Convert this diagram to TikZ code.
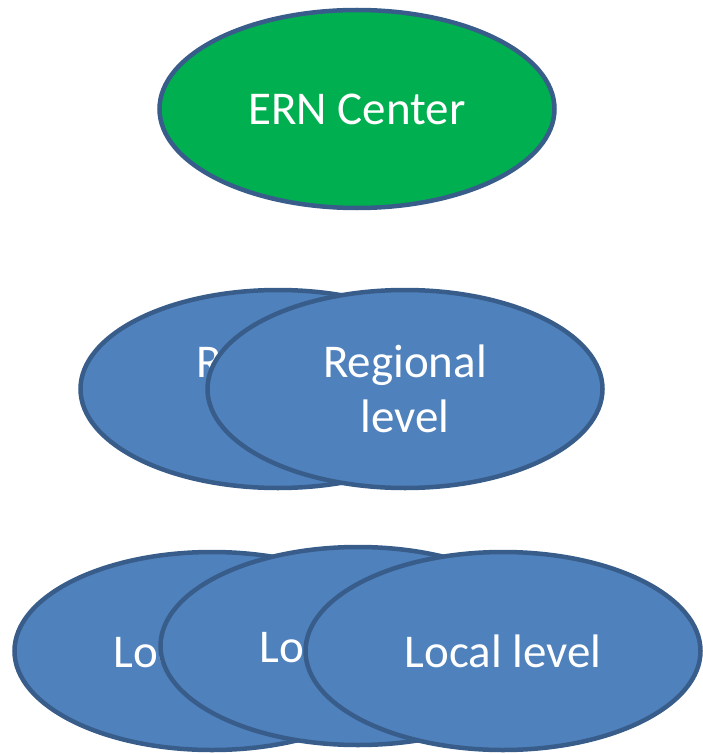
\documentclass[tikz,border=0pt]{standalone}
\usepackage{fontspec}
\setmainfont{Carlito}
\usetikzlibrary{shapes.geometric}
\definecolor{ernGreen}{HTML}{00B050}
\definecolor{lvlBlue}{HTML}{4F81BD}
\definecolor{lvlEdge}{HTML}{385D8A}

\begin{document}
\begin{tikzpicture}[x=1pt,y=-1pt,
    blob/.style={ellipse,draw=lvlEdge,line width=4.5pt,fill=lvlBlue,text=white,
      minimum width=395pt,minimum height=198pt,inner sep=0pt,align=center,
      font=\fontsize{47}{55}\selectfont},
    greenblob/.style={blob,fill=ernGreen}]
     \useasboundingbox (0,0) rectangle (702,754);
     \node[greenblob] (ern) at (357,109) {ERN Center};%top
     \node[blob] (reg1) at (278,389) {Regional\\level};
     \node[blob] (reg2) at (405,389) {Regional\\level};
     \node[blob] (loc1) at (212,651) {Local level};%bottom row
     \node[blob] (loc2) at (358,646) {Local level};
     \node[blob] (loc3) at (503,651) {Local level};
    \end{tikzpicture}
\end{document}
